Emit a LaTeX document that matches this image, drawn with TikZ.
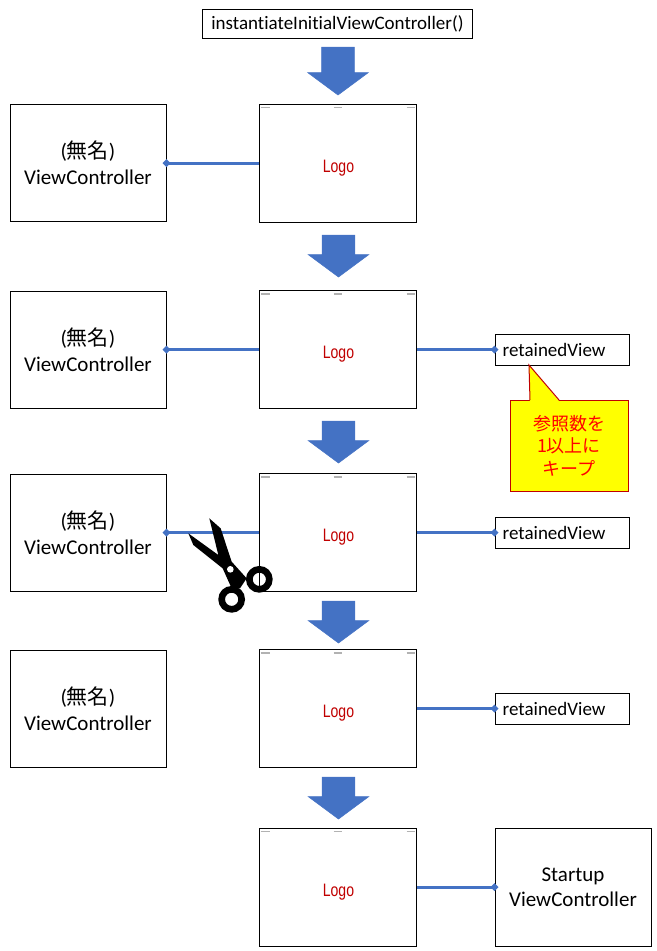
\documentclass[tikz,border=0pt]{standalone}
\usepackage{fontspec}
\setmainfont[Ligatures=NoCommon]{Carlito}
\newfontfamily\cjk{Noto Sans CJK JP}
\newfontfamily\logofont[FakeStretch=0.78]{Liberation Sans}
\usetikzlibrary{shapes,arrows.meta,positioning}
\definecolor{linkblue}{HTML}{4472C4}
\definecolor{logored}{HTML}{C00000}
\definecolor{notefill}{HTML}{FFFF00}
\definecolor{noteline}{HTML}{C00000}
\tikzset{
	box/.style={rectangle, draw=black, line width=0.75pt, inner sep=0pt, align=center},
	scr/.style={box, minimum width=117.75pt, minimum height=88.5pt, font=\logofont\fontsize{13.5}{16}\selectfont, text=logored},
	vc/.style={box, minimum width=117pt, minimum height=87.75pt, font=\fontsize{15.75}{19.5}\selectfont},
	ret/.style={box, minimum width=100.5pt, minimum height=23.25pt, font=\fontsize{14.25}{16}\selectfont, align=left},
	down/.style={single arrow, shape border rotate=270, fill=linkblue, draw=linkblue, line width=0.4pt, inner sep=0pt, minimum width=45pt, single arrow head extend=10.5pt, single arrow tip angle=107},
	link/.style={draw=linkblue, line width=2.25pt, -{Diamond[length=6pt,width=6pt]}, shorten >=-3pt},
}
\newcommand{\statusmarks}[1]{
	\draw[gray!60, line width=1pt] ([shift={(2,4)}]#1.north west) -- +(9,0);
	\draw[gray!60, line width=1pt] ([shift={(-4,4)}]#1.north) -- +(8,0);
	\draw[gray!60, line width=1pt] ([shift={(-10,4)}]#1.north east) -- +(8,0);
}
\newcommand{\noname}{({\cjk\fontsize{15.75}{19.5}\selectfont 無名})}
\newcommand{\logotext}{\hspace*{1.5pt}\smash{\raisebox{-6.8pt}{Logo}}}
\begin{document}
\begin{tikzpicture}[x=0.75pt, y=-0.75pt]
	\useasboundingbox (0,0) rectangle (657,951);

	\node[box, minimum width=203pt, minimum height=21.75pt, font=\fontsize{14.25}{16}\selectfont] (init) at (337.5,23.5) {instantiateInitialViewController()};

	% five screens, top to bottom
	\node[scr] (scr1) at (337.5,163) {\logotext};
	\node[scr] (scr2) at (337.5,349.5) {\logotext};
	\node[scr] (scr3) at (337.5,532.5) {\logotext};
	\node[scr] (scr4) at (337.5,708.5) {\logotext};
	\node[scr] (scr5) at (337.5,887) {\logotext};
	\foreach \n in {scr1,scr2,scr3,scr4,scr5} {\statusmarks{\n}}

	% the unnamed controllers
	\node[vc, left=69pt of scr1] (vc1) {\noname\\ViewController};
	\node[vc, left=69pt of scr2] (vc2) {\noname\\ViewController};
	\node[vc, left=69pt of scr3] (vc3) {\noname\\ViewController};
	\node[vc, left=69pt of scr4] (vc4) {\noname\\ViewController};

	\node[ret, right=58.5pt of scr2, text width=89pt] (ret2) {retainedView};
	\node[ret, right=58.5pt of scr3, text width=89pt] (ret3) {retainedView};
	\node[ret, right=58.5pt of scr4, text width=89pt] (ret4) {retainedView};
	\node[vc, right=58.5pt of scr5, minimum height=88.5pt, font=\fontsize{15.75}{19}\selectfont] (startup) {Startup\\ViewController};

	% arrows between the steps
	\node[down, minimum height=36pt] (arr1) at (338,65) {\hspace*{24pt}};
	\node[down, minimum height=31.5pt] (arr2) at (338.5,250) {\hspace*{24pt}};
	\node[down, minimum height=31.5pt] (arr3) at (338.5,436) {\hspace*{24pt}};
	\node[down, minimum height=31.5pt] (arr4) at (338.5,616) {\hspace*{24pt}};
	\node[down, minimum height=31.5pt] (arr5) at (338.5,792) {\hspace*{24pt}};

	\draw[link] (scr1) -- (vc1);
	\draw[link] (scr2) -- (vc2);
	\draw[link] (scr2) -- (ret2);
	\draw[link] (scr3) -- (vc3);
	\draw[link] (scr3) -- (ret3);
	\draw[link] (scr4) -- (ret4);
	\draw[link] (scr5) -- (startup);

	% note on the retained view
	\node[box, draw=noteline, fill=notefill, minimum width=88.5pt, minimum height=68.25pt, text=red, font=\cjk\fontsize{13.5}{17}\selectfont] (note) at (569,445.5) {参照数を\\1以上に\\キープ};
	\coordinate (tip) at (529,365);
	\fill[notefill] (530,401) -- (tip) -- (559,401) -- cycle;
	\draw[noteline, line width=0.75pt] (530,400) -- (tip) -- (559,400);

	% scissors over the third link
	\begin{scope}[shift={(150,460)}, scale=0.3333]
		\fill (178,175) -- (212,205) -- (245,305) -- (290,355) -- (270,385) -- (245,385) -- (218,325) -- (130,255) -- (115,220) -- (205,285) -- cycle;
		\draw[line width=5pt] (245,418) circle (30);
		\draw[line width=5pt] (328,358) circle (30);
		\fill[white] (241,328) circle (10);
	\end{scope}
\end{tikzpicture}
\end{document}
